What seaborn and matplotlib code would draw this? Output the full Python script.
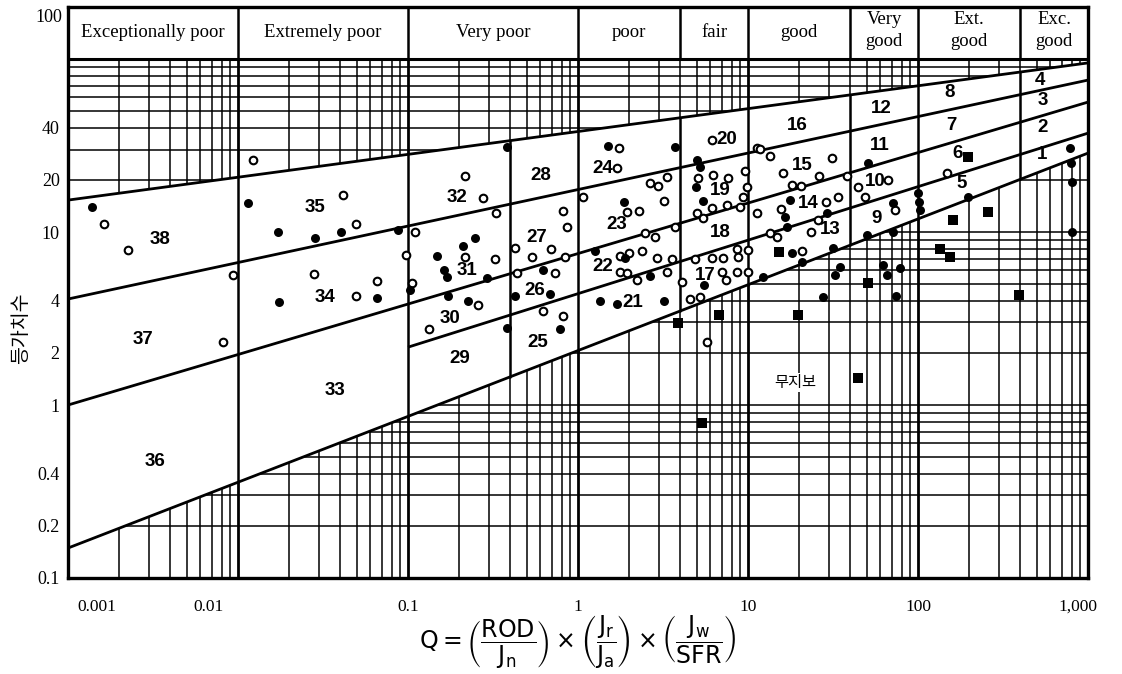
import numpy as np
import matplotlib
matplotlib.use("Agg")
import matplotlib.pyplot as plt
import seaborn as sns
from matplotlib.transforms import ScaledTranslation

# ---------------- data ----------------
class_edges = [0.001, 0.01, 0.1, 1, 4, 10, 40, 100, 400, 1000]
class_names = ["Exceptionally poor", "Extremely poor", "Very poor", "poor", "fair",
               "good", "Very\ngood", "Ext.\ngood", "Exc.\ngood"]
col_edges = [0.01, 0.1, 0.4, 1, 4, 10, 40, 100, 400]

# support-category boundary lines (Q, De end points)
top_q, top_de = [0.001, 1000], [15.3, 95.0]
l2_q, l2_de = [0.001, 1000], [4.1, 75.6]
l3_q, l3_de = [0.001, 1000], [1.0, 56.4]
l4_q, l4_de = [0.1, 1000], [2.16, 37.3]
bot_q, bot_de = [0.001, 1000], [0.149, 28.6]

# case records
filled_q = [0.00138, 0.0115, 0.0172, 0.0284, 0.0404, 0.0873, 0.103, 0.0174, 0.0657,
            0.382, 1.50, 3.72, 5.01, 5.22, 0.248, 0.211, 0.148, 0.163, 0.170, 0.292,
            0.622, 0.426, 0.684, 0.172, 0.225, 1.35, 1.70, 3.21, 1.86, 1.26, 1.89,
            2.65, 5.44, 5.51, 4.94, 0.382, 0.784, 50.8, 17.7, 16.5, 17.0, 29.2, 18.1,
            31.6, 20.8, 12.3, 50.1, 71.3, 71.3, 100, 101, 103, 197, 784, 794, 805,
            805, 34.8, 32.5, 62.3, 65.7, 78.3, 27.6, 74.2]
filled_de = [14.0, 14.7, 10.0, 9.2, 10.0, 10.3, 4.6, 3.94, 4.15,
             31.0, 31.4, 31.0, 26.1, 23.8, 9.2, 8.3, 7.3, 6.0, 5.5, 5.42,
             6.0, 4.27, 4.38, 4.27, 3.99, 4.0, 3.84, 4.0, 14.9, 7.77, 7.08,
             5.57, 15.1, 4.94, 18.2, 2.79, 2.75, 25.0, 15.3, 12.2, 10.7, 12.9, 7.56,
             8.08, 6.7, 5.5, 9.6, 10.0, 14.7, 16.8, 14.9, 13.4, 15.9, 30.6, 25.0, 19.5,
             10.0, 6.28, 5.64, 6.45, 5.64, 6.19, 4.21, 4.27]

open_q = [0.00163, 0.00225, 0.0123, 0.0415, 0.0494, 0.0973, 0.00935, 0.028, 0.0657,
          0.0494, 0.106, 0.00816, 1.74, 1.70, 0.216, 0.276, 0.330, 1.07, 2.65, 2.96,
          3.34, 3.21, 0.816, 0.861, 0.110, 0.426, 0.536, 0.694, 0.839, 0.325, 0.216,
          0.438, 0.732, 1.94, 2.28, 2.48, 2.84, 3.72, 1.77, 2.0, 2.38, 2.92, 3.57,
          1.77, 1.94, 2.22, 3.34, 4.09, 0.258, 0.622, 0.816, 6.22, 7.63, 9.6, 5.08,
          9.87, 9.35, 11.3, 5.01, 5.44, 6.14, 7.52, 8.97, 11.3, 4.88, 6.14, 7.13,
          8.61, 10.0, 8.73, 7.03, 7.42, 8.61, 10.0, 4.56, 5.22, 6.14, 0.133, 5.74,
          11.8, 13.5, 16.1, 31.2, 26.2, 18.1, 20.5, 38.2, 15.6, 28.8, 33.8, 25.8,
          23.5, 13.5, 14.8, 20.8, 44.4, 48.8, 66.6, 73.2, 148]
open_de = [11.1, 7.87, 26.1, 16.4, 11.1, 7.36, 5.64, 5.72, 5.21,
           4.27, 5.07, 2.31, 30.6, 23.4, 21.1, 15.7, 12.9, 15.9, 19.2, 18.4,
           20.8, 15.1, 13.2, 10.7, 10.0, 8.08, 7.17, 7.97, 7.17, 6.98, 7.17,
           5.79, 5.79, 13.0, 13.2, 9.87, 9.35, 10.7, 7.26, 7.56, 7.77, 7.08, 6.98,
           5.87, 5.79, 5.28, 5.87, 5.14, 3.78, 3.49, 3.27, 21.3, 20.5, 22.5, 20.5,
           18.2, 15.9, 30.6, 12.9, 12.0, 13.8, 14.3, 14.0, 12.9, 6.98, 7.08, 7.08,
           7.97, 7.87, 7.17, 5.87, 5.28, 5.87, 5.87, 4.10, 4.21, 34.0, 2.75, 2.31,
           30.2, 27.5, 21.9, 26.8, 21.1, 18.7, 18.4, 21.1, 13.6, 14.9, 15.9, 11.7,
           10.0, 9.87, 9.35, 7.77, 18.2, 15.9, 20.0, 13.4, 21.9]

square_q = [3.88, 6.75, 5.36, 19.7, 15.2, 44.4, 50.8, 135, 154, 161, 197, 258, 393]
square_de = [2.98, 3.31, 0.787, 3.31, 7.66, 1.43, 5.07, 7.97, 7.17, 11.7, 27.1, 13.0, 4.32]

# support category numbers
cat_labels = [str(i) for i in range(38, 0, -1)]
cat_q = [0.00348, 0.00276, 0.00325, 0.0284, 0.0325, 0.0372, 0.194, 0.222, 0.177, 0.202,
         0.606, 0.574, 0.559, 0.582, 1.40, 1.70, 1.40, 2.11, 7.52, 6.84, 6.84, 5.58,
         19.4, 20.8, 22.5, 30.3, 60.6, 59.8, 55.9, 57.4, 154, 158, 170, 181,
         522, 544, 544, 536]
cat_de = [9.0, 2.38, 0.469, 13.8, 4.21, 1.22, 15.9, 6.03, 3.18, 1.87,
          21.3, 9.35, 4.62, 2.31, 23.4, 11.1, 6.28, 3.89, 34.5, 17.5, 10.0, 5.64,
          41.5, 24.4, 14.7, 10.3, 52.1, 31.8, 19.5, 12.0, 64.4, 41.5, 28.6, 19.2,
          75.6, 57.9, 40.4, 27.9]

x_ticks = [0.001, 0.01, 0.1, 1, 10, 100, 1000]
x_ticklabels = ["0.001", "0.01", "0.1", "1", "10", "100", "1,000"]
y_ticks = [0.1, 0.2, 0.4, 1, 2, 4, 10, 20, 40]
y_ticklabels = ["0.1", "0.2", "0.4", "1", "2", "4", "10", "20", "40"]

# ---------------- figure ----------------
sns.set_theme(style="white")
K = "black"
plt.rcParams.update({"mathtext.fontset": "dejavusans", "text.color": K,
                     "axes.labelcolor": K, "xtick.color": K, "ytick.color": K})
W, H = 1122, 674
AX_TOP, AX_BOT = 7, 578
fig = plt.figure(figsize=(W / 100, H / 100), dpi=100)
ax = fig.add_axes([68 / W, (H - AX_BOT) / H, 1020 / W, (AX_BOT - AX_TOP) / H])
ax.set_xscale("log")
ax.set_yscale("log")
XMIN, XMAX, YMIN, YTOP = 0.001, 1000, 0.1, 200
ax.set_xlim(XMIN, XMAX)
ax.set_ylim(YMIN, YTOP)
AXH = AX_BOT - AX_TOP


def loglog(q, qs, ds):
    return 10 ** np.interp(np.log10(q), np.log10(qs), np.log10(ds))


# log grid
vgrid = [m * 10.0 ** k for k in range(-3, 3) for m in range(2, 10)]
dec = [10.0 ** k for k in range(-3, 4)]
ax.vlines(vgrid, YMIN, 100, color=K, lw=1.1, zorder=1)
ax.vlines(dec, YMIN, 100, color=K, lw=2.0, zorder=1)
hgrid = [m * 10.0 ** k for k in range(-1, 2) for m in range(1, 10)] + [100]
ax.hlines(hgrid, XMIN, XMAX, color=K, lw=1.1, zorder=1)

# blank band between top and bottom boundary
qq = np.logspace(-3, 3, 300)
ax.fill_between(qq, loglog(qq, bot_q, bot_de), loglog(qq, top_q, top_de),
                color="white", lw=0, zorder=2)

# boundary lines
for qs, ds in [(top_q, top_de), (l2_q, l2_de), (l3_q, l3_de), (l4_q, l4_de), (bot_q, bot_de)]:
    ax.plot(qs, ds, color=K, lw=2.0, zorder=3, solid_capstyle="butt")
# column separators in the band
for q in col_edges:
    ax.plot([q, q], [loglog(q, bot_q, bot_de), loglog(q, top_q, top_de)],
            color=K, lw=1.8, zorder=3)

# header
ax.axhline(100, color=K, lw=2.2, zorder=3)
for q in class_edges[1:-1]:
    ax.plot([q, q], [100, YTOP], color=K, lw=1.8, zorder=3)
for i, name in enumerate(class_names):
    xc = np.sqrt(class_edges[i] * class_edges[i + 1])
    two = "\n" in name
    ax.text(xc, 146 if two else 142, name, ha="center", va="center", fontsize=13.5,
            color=K, family="Liberation Serif", linespacing=1.4, zorder=8)

# points
sns.scatterplot(x=open_q, y=open_de, ax=ax, marker="o", s=30, color="white",
                edgecolor=K, linewidth=1.5, zorder=5, legend=False)
sns.scatterplot(x=filled_q, y=filled_de, ax=ax, marker="o", s=42, color=K,
                edgecolor=K, linewidth=0, zorder=5, legend=False)
sns.scatterplot(x=square_q, y=square_de, ax=ax, marker="s", s=42, color=K,
                edgecolor=K, linewidth=0, zorder=5, legend=False)

# category numbers
for lab, q, d in zip(cat_labels, cat_q, cat_de):
    ax.text(q, d, lab, ha="center", va="center", fontsize=13.5, fontweight="bold",
            color=K, family="Liberation Sans", zorder=6)

ax.text(19.0, 1.35, "무지보", ha="center", va="center", fontsize=11, color=K,
        family=["Noto Sans CJK KR", "DejaVu Sans"], zorder=6,
        bbox=dict(facecolor="white", edgecolor="none", pad=1))

# axes styling
for s in ax.spines.values():
    s.set_color(K)
    s.set_linewidth(2.4)
    s.set_zorder(7)
ax.set_xticks(x_ticks)
ax.set_xticklabels(x_ticklabels, fontsize=12.5, family="Liberation Serif", color=K)
ax.xaxis.set_minor_locator(matplotlib.ticker.NullLocator())
ax.tick_params(axis="x", which="both", length=0, pad=15, colors=K)
ax.set_yticks(y_ticks)
ax.set_yticklabels(y_ticklabels, fontsize=13, family="Liberation Serif", color=K)
ax.yaxis.set_minor_locator(matplotlib.ticker.LogLocator(base=10, subs=np.arange(2, 10)))
ax.yaxis.set_minor_formatter(matplotlib.ticker.NullFormatter())
ax.tick_params(axis="y", which="major", direction="in", length=12, width=1.6, pad=6, colors=K)
ax.tick_params(axis="y", which="minor", direction="in", length=7, width=1.4, colors=K)
ax.text(-0.006, (AX_BOT - 18) / AXH, "100", transform=ax.transAxes, ha="right",
        va="center", fontsize=13, family="Liberation Serif", color=K)

shifts = {"0.001": 29, "0.01": -30, "1,000": -10}
for lab in ax.get_xticklabels():
    dx = shifts.get(lab.get_text(), 0)
    if dx:
        lab.set_transform(lab.get_transform() + ScaledTranslation(dx / 100, 0, fig.dpi_scale_trans))

ax.set_xlabel(r"$\mathrm{Q}=\left(\dfrac{\mathrm{ROD}}{\mathrm{J_n}}\right)\times"
              r"\left(\dfrac{\mathrm{J_r}}{\mathrm{J_a}}\right)\times"
              r"\left(\dfrac{\mathrm{J_w}}{\mathrm{SFR}}\right)$", fontsize=17, color=K)
ax.xaxis.set_label_coords(0.5, -(642 - AX_BOT) / AXH)
ax.xaxis.label.set_va("center")
ax.set_ylabel("등가치수", fontsize=14, color=K, family=["Noto Sans CJK KR", "DejaVu Sans"])
ax.yaxis.set_label_coords((21 - 68) / 1020, (AX_BOT - 328) / AXH)
ax.yaxis.label.set_va("center")

fig.savefig("out.png", dpi=100, facecolor="white")
